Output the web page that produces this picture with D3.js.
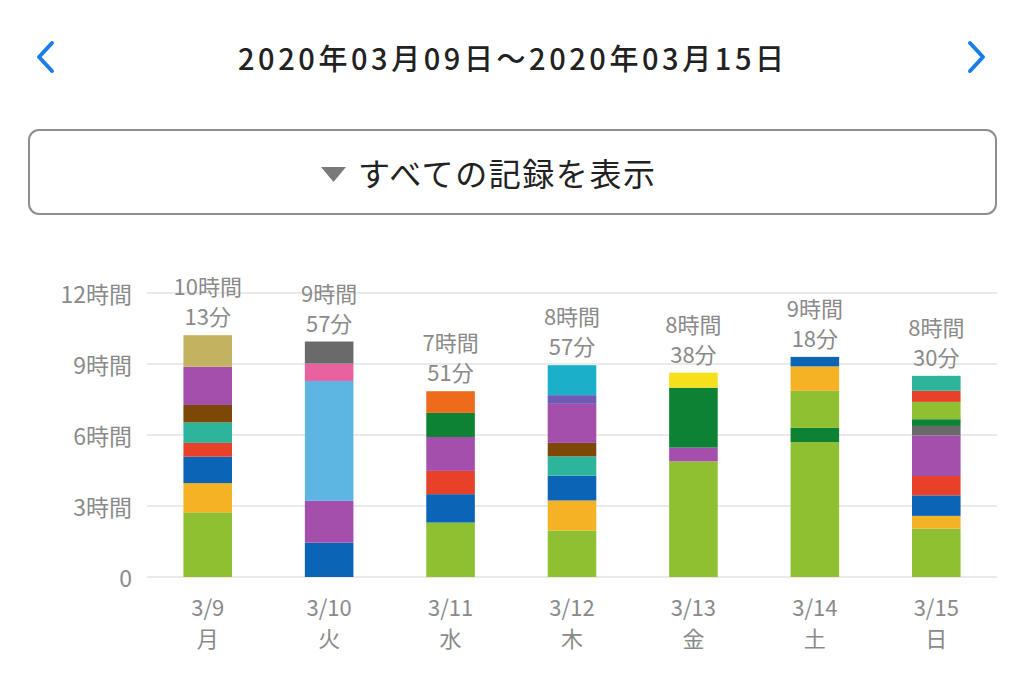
<html>
<head>
<meta charset="utf-8">
<style>
  body { margin: 0; background: #fff; }
  text { font-family: "Noto Sans CJK JP", "Noto Sans", sans-serif; }
</style>
</head>
<body>
<svg id="container" width="1024" height="683"></svg>
<script src="https://cdn.jsdelivr.net/npm/d3@7"></script>
<script>
// days on the x axis
let days = ["3/9", "3/10", "3/11", "3/12", "3/13", "3/14", "3/15"]
let weekdays = ["月", "火", "水", "木", "金", "土", "日"]
let yTicks = [0, 3, 6, 9, 12]

// activity colours
let activities = ["lime", "amber", "blue", "red", "teal", "brown", "purple", "khaki",
                  "sky", "pink", "gray", "forest", "orange", "cyan", "indigo", "yellow"]
let activityColors = ["#8fc031", "#f4b224", "#0b64b6", "#e8412a", "#2db59b", "#7b4806",
                      "#a54fad", "#c3b25f", "#5db5e1", "#e9629f", "#6a6a6a", "#0e8234",
                      "#ee6b1c", "#1bb0c9", "#6f5ab5", "#f5e01b"]

// records per day, bottom to top: [activity, minutes]
let rec0309 = [["lime", 164], ["amber", 74], ["blue", 67], ["red", 35], ["teal", 52], ["brown", 44], ["purple", 97], ["khaki", 80]]
let rec0310 = [["blue", 87], ["purple", 106], ["sky", 304], ["pink", 44], ["gray", 56]]
let rec0311 = [["lime", 138], ["blue", 72], ["red", 59], ["purple", 86], ["forest", 61], ["orange", 55]]
let rec0312 = [["lime", 118], ["amber", 76], ["blue", 63], ["teal", 49], ["brown", 34], ["purple", 99], ["indigo", 22], ["cyan", 76]]
let rec0313 = [["lime", 293], ["purple", 35], ["forest", 152], ["yellow", 38]]
let rec0314 = [["lime", 342], ["forest", 36], ["lime", 94], ["amber", 62], ["blue", 24]]
let rec0315 = [["lime", 123], ["amber", 32], ["blue", 52], ["red", 49], ["purple", 103], ["gray", 24], ["forest", 17], ["lime", 44], ["red", 28], ["teal", 38]]
let records = [rec0309, rec0310, rec0311, rec0312, rec0313, rec0314, rec0315]

let svg = d3.select("#container")
let grayText = "#8a8a8a"

// header
svg.append("text")
  .attr("x", 511).attr("y", 57)
  .attr("text-anchor", "middle").attr("dominant-baseline", "central")
  .attr("textLength", 546).attr("lengthAdjust", "spacing")
  .style("font-size", "29px").style("font-weight", "500").attr("fill", "#222")
  .text("2020年03月09日～2020年03月15日")

svg.append("path").attr("d", "M52,43 L39,57 L52,71")
  .attr("fill", "none").attr("stroke", "#1a7de8").attr("stroke-width", 4)
  .attr("stroke-linecap", "round").attr("stroke-linejoin", "round")
svg.append("path").attr("d", "M970,43 L983,57 L970,71")
  .attr("fill", "none").attr("stroke", "#1a7de8").attr("stroke-width", 4)
  .attr("stroke-linecap", "round").attr("stroke-linejoin", "round")

// button
svg.append("rect")
  .attr("x", 29).attr("y", 130).attr("width", 967).attr("height", 84)
  .attr("rx", 10).attr("fill", "#fff").attr("stroke", "#8e8e8e").attr("stroke-width", 2)
svg.append("path").attr("d", "M321,167 L346,167 L333.5,182 Z").attr("fill", "#7a7a7a")
svg.append("text")
  .attr("x", 358).attr("y", 172).attr("dominant-baseline", "central")
  .attr("textLength", 297).attr("lengthAdjust", "spacing")
  .style("font-size", "32px").attr("fill", "#222")
  .text("すべての記録を表示")

// scales
let x = d3.scaleBand().domain(days).range([147, 997]).paddingInner(0.6).paddingOuter(0.3)
let y = d3.scaleLinear().domain([0, 12]).range([577, 293])
let color = d3.scaleOrdinal().domain(activities).range(activityColors)

// grid
svg.append("g").selectAll("line").data(yTicks).enter().append("line")
  .attr("x1", 147).attr("x2", 997)
  .attr("y1", d => y(d)).attr("y2", d => y(d))
  .attr("stroke", "#e3e3e3").attr("stroke-width", 1.5)

// y axis labels
svg.append("g").selectAll("text").data(yTicks).enter().append("text")
  .attr("x", 132).attr("y", d => y(d))
  .attr("text-anchor", "end").attr("dominant-baseline", "central")
  .style("font-size", "23px").attr("fill", grayText)
  .text(d => d === 0 ? "0" : d + "時間")

// stacked bars
let dayG = svg.append("g").selectAll(".day")
  .data(records.map((r, i) => ({ day: days[i], rec: r })))
  .enter().append("g").attr("class", "day")

dayG.each(function(d) {
  let acc = 0
  let segs = d.rec.map(r => {
    let s = { act: r[0], y0: acc / 60, y1: (acc + r[1]) / 60 }
    acc += r[1]
    return s
  })
  d.total = acc
  d3.select(this).selectAll("rect").data(segs).enter().append("rect")
    .attr("x", x(d.day)).attr("width", x.bandwidth())
    .attr("y", s => y(s.y1)).attr("height", s => y(s.y0) - y(s.y1))
    .attr("fill", s => color(s.act))
})

// totals above bars
dayG.append("text")
  .attr("x", d => x(d.day) + x.bandwidth() / 2)
  .attr("y", d => y(d.total / 60) - 50)
  .attr("text-anchor", "middle").attr("dominant-baseline", "central")
  .style("font-size", "22px").attr("fill", grayText)
  .text(d => Math.floor(d.total / 60) + "時間")
dayG.append("text")
  .attr("x", d => x(d.day) + x.bandwidth() / 2)
  .attr("y", d => y(d.total / 60) - 20)
  .attr("text-anchor", "middle").attr("dominant-baseline", "central")
  .style("font-size", "22px").attr("fill", grayText)
  .text(d => d3.format("02")(d.total % 60) + "分")

// x labels
let xl = svg.append("g").selectAll("g").data(days).enter().append("g")
xl.append("text")
  .attr("x", d => x(d) + x.bandwidth() / 2).attr("y", 606)
  .attr("text-anchor", "middle").attr("dominant-baseline", "central")
  .style("font-size", "22px").attr("fill", grayText)
  .text(d => d)
xl.append("text")
  .attr("x", d => x(d) + x.bandwidth() / 2).attr("y", 637)
  .attr("text-anchor", "middle").attr("dominant-baseline", "central")
  .style("font-size", "22px").attr("fill", grayText)
  .text((d, i) => weekdays[i])
</script>
</body>
</html>
